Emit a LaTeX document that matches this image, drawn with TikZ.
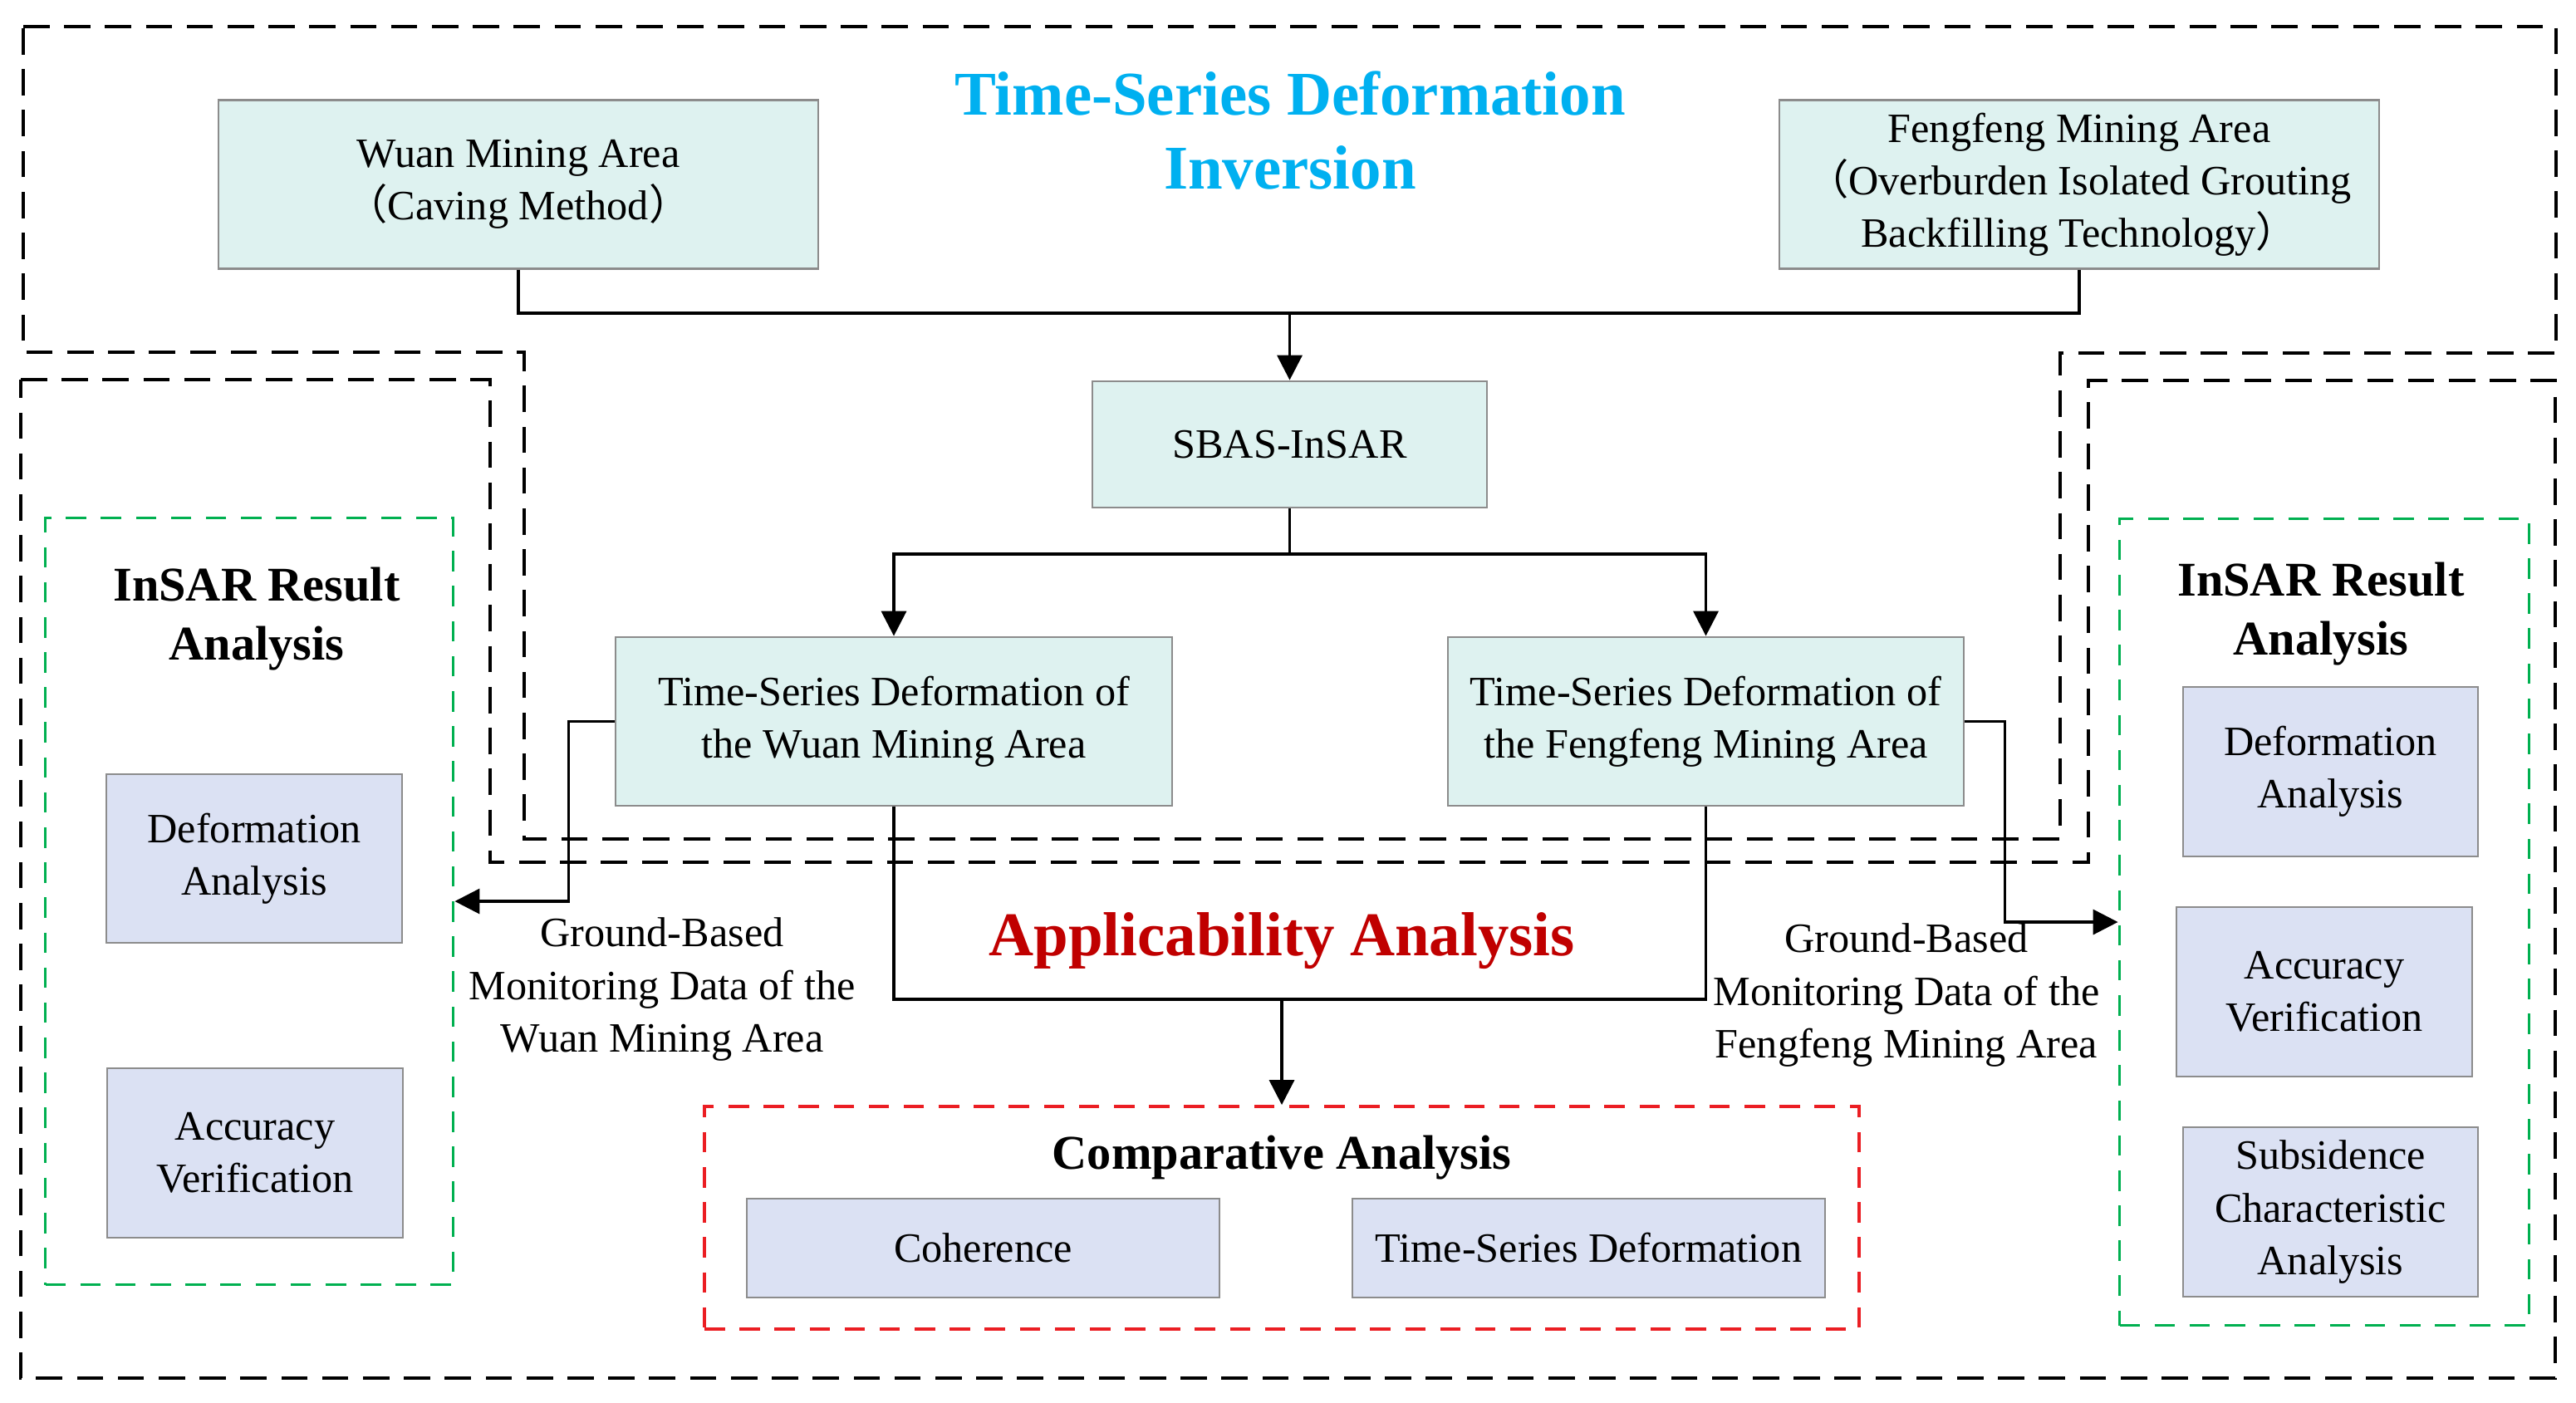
\documentclass[tikz,border=0pt]{standalone}
\usepackage{fontspec}
\setmainfont{Liberation Serif}
\newfontfamily\cjk{Noto Sans CJK SC}
\usetikzlibrary{positioning,arrows.meta}
\definecolor{titlecyan}{RGB}{0,176,240}
\definecolor{titlered}{RGB}{192,0,0}
\definecolor{areacyan}{RGB}{222,242,240}
\definecolor{reslav}{RGB}{219,225,243}
\definecolor{boxgray}{RGB}{140,140,140}
\definecolor{framegreen}{RGB}{0,176,80}
\definecolor{framered}{RGB}{235,30,35}

\begin{document}
\begin{tikzpicture}[
  % Node Styles
  areabox/.style={rectangle, draw=boxgray, fill=areacyan, line width=0.8pt, align=center, inner sep=2pt},
  resbox/.style={rectangle, draw=boxgray, fill=reslav, line width=0.8pt, align=center, inner sep=2pt},
  headtext/.style={align=center, font=\fontsize{21.3}{25.5}\selectfont\bfseries},
  subhead/.style={align=center, font=\fontsize{16.6}{20.4}\selectfont\bfseries},
  labeltext/.style={align=center},
  greenframe/.style={rectangle, draw=framegreen, line width=1.1pt, dash pattern=on 7pt off 5pt},
  redframe/.style={rectangle, draw=framered, line width=1.1pt, dash pattern=on 7pt off 5pt},
  blackframe/.style={draw=black, line width=1.3pt, dash pattern=on 9pt off 5pt},
  % Arrow Styles
  solidarrow/.style={-{Triangle[length=8.5pt,width=8.5pt]}, line width=1pt},
  solidline/.style={line width=1pt},
]
\tikzset{font=\fontsize{14.3}{18}\selectfont}
\useasboundingbox (0,0) rectangle (31.01,-16.88);

% Outer dashed frames
\draw[blackframe] (0.28,-0.32) -- (30.77,-0.32) -- (30.77,-4.25) -- (24.80,-4.25) -- (24.80,-10.10)
  -- (6.31,-10.10) -- (6.31,-4.24) -- (0.28,-4.24) -- cycle;
\draw[blackframe] (0.25,-4.57) -- (5.90,-4.57) -- (5.90,-10.38) -- (25.14,-10.38) -- (25.14,-4.58)
  -- (30.76,-4.58) -- (30.76,-16.59) -- (0.25,-16.59) -- cycle;

\node[greenframe, minimum width=4.91cm, minimum height=9.23cm] (lgreen) at (3.00,-10.85) {};
\node[greenframe, minimum width=4.93cm, minimum height=9.71cm] (rgreen) at (27.98,-11.10) {};
\node[redframe, minimum width=13.90cm, minimum height=2.68cm] (cmpframe) at (15.43,-14.66) {};

% Time-Series Deformation Inversion
\node[headtext, text=titlecyan] (invtitle) at (15.53,-1.57) {Time-Series Deformation\\Inversion};
\node[areabox, minimum width=7.22cm, minimum height=2.03cm] (wuan) at (6.24,-2.22) {Wuan Mining Area\\{\cjk （}Caving Method{\cjk ）}};
\node[areabox, minimum width=7.22cm, minimum height=2.03cm] (feng) at (25.03,-2.22) {Fengfeng Mining Area\\{\cjk （}Overburden Isolated Grouting\\Backfilling Technology{\cjk ）}};
\node[areabox, minimum width=4.75cm, minimum height=1.52cm] (sbas) at (15.525,-5.35) {SBAS-InSAR};
\node[areabox, minimum width=6.70cm, minimum height=2.03cm] (wts) at (10.76,-8.685) {Time-Series Deformation of\\the Wuan Mining Area};
\node[areabox, minimum width=6.21cm, minimum height=2.03cm] (fts) at (20.535,-8.685) {Time-Series Deformation of\\the Fengfeng Mining Area};

% InSAR Result Analysis
\node[subhead] (ltitle) at (3.09,-7.45) {InSAR Result\\Analysis};
\node[resbox, minimum width=3.56cm, minimum height=2.03cm] (ldef) at (3.06,-10.335) {Deformation\\Analysis};
\node[resbox, minimum width=3.56cm, minimum height=2.04cm] (lacc) at (3.07,-13.88) {Accuracy\\Verification};

\node[subhead] (rtitle) at (27.94,-7.39) {InSAR Result\\Analysis};
\node[resbox, minimum width=3.55cm, minimum height=2.04cm] (rdef) at (28.055,-9.29) {Deformation\\Analysis};
\node[resbox, minimum width=3.56cm, minimum height=2.04cm] (racc) at (27.98,-11.94) {Accuracy\\Verification};
\node[resbox, minimum width=3.55cm, minimum height=2.04cm] (rsub) at (28.055,-14.59) {Subsidence\\Characteristic\\Analysis};

% Applicability Analysis
\node[headtext, text=titlered] (apptitle) at (15.43,-11.33) {Applicability Analysis};
\node[labeltext] (lgnd) at (7.97,-11.91) {Ground-Based\\Monitoring Data of the\\Wuan Mining Area};
\node[labeltext] (rgnd) at (22.95,-11.98) {Ground-Based\\Monitoring Data of the\\Fengfeng Mining Area};
\node[subhead] (cmptitle) at (15.43,-13.94) {Comparative Analysis};
\node[resbox, minimum width=5.69cm, minimum height=1.19cm] (coh) at (11.835,-15.025) {Coherence};
\node[resbox, minimum width=5.69cm, minimum height=1.19cm] (tsdef) at (19.125,-15.025) {Time-Series Deformation};

% Connectors
\coordinate (jtop) at (15.525,-3.77);
\coordinate (jmid) at (15.525,-6.67);
\coordinate (jbot) at (15.43,-12.03);

\draw[solidline] (wuan.south) |- (jtop) -| (feng.south);
\draw[solidarrow] (jtop) -- (sbas.north);
\draw[solidline] (sbas.south) -- (jmid);
\draw[solidarrow] (jmid) -| (wts.north);
\draw[solidarrow] (jmid) -| (fts.north);
\draw[solidline] (wts.south) |- (jbot) -| (fts.south);
\draw[solidarrow] (jbot) -- (cmpframe.north);
\draw[solidarrow] (wts.west) -- ++(-0.55,0) |- (lgreen.east);
\draw[solidarrow] (fts.east) -- ++(0.48,0) |- (rgreen.west);

\end{tikzpicture}
\end{document}
